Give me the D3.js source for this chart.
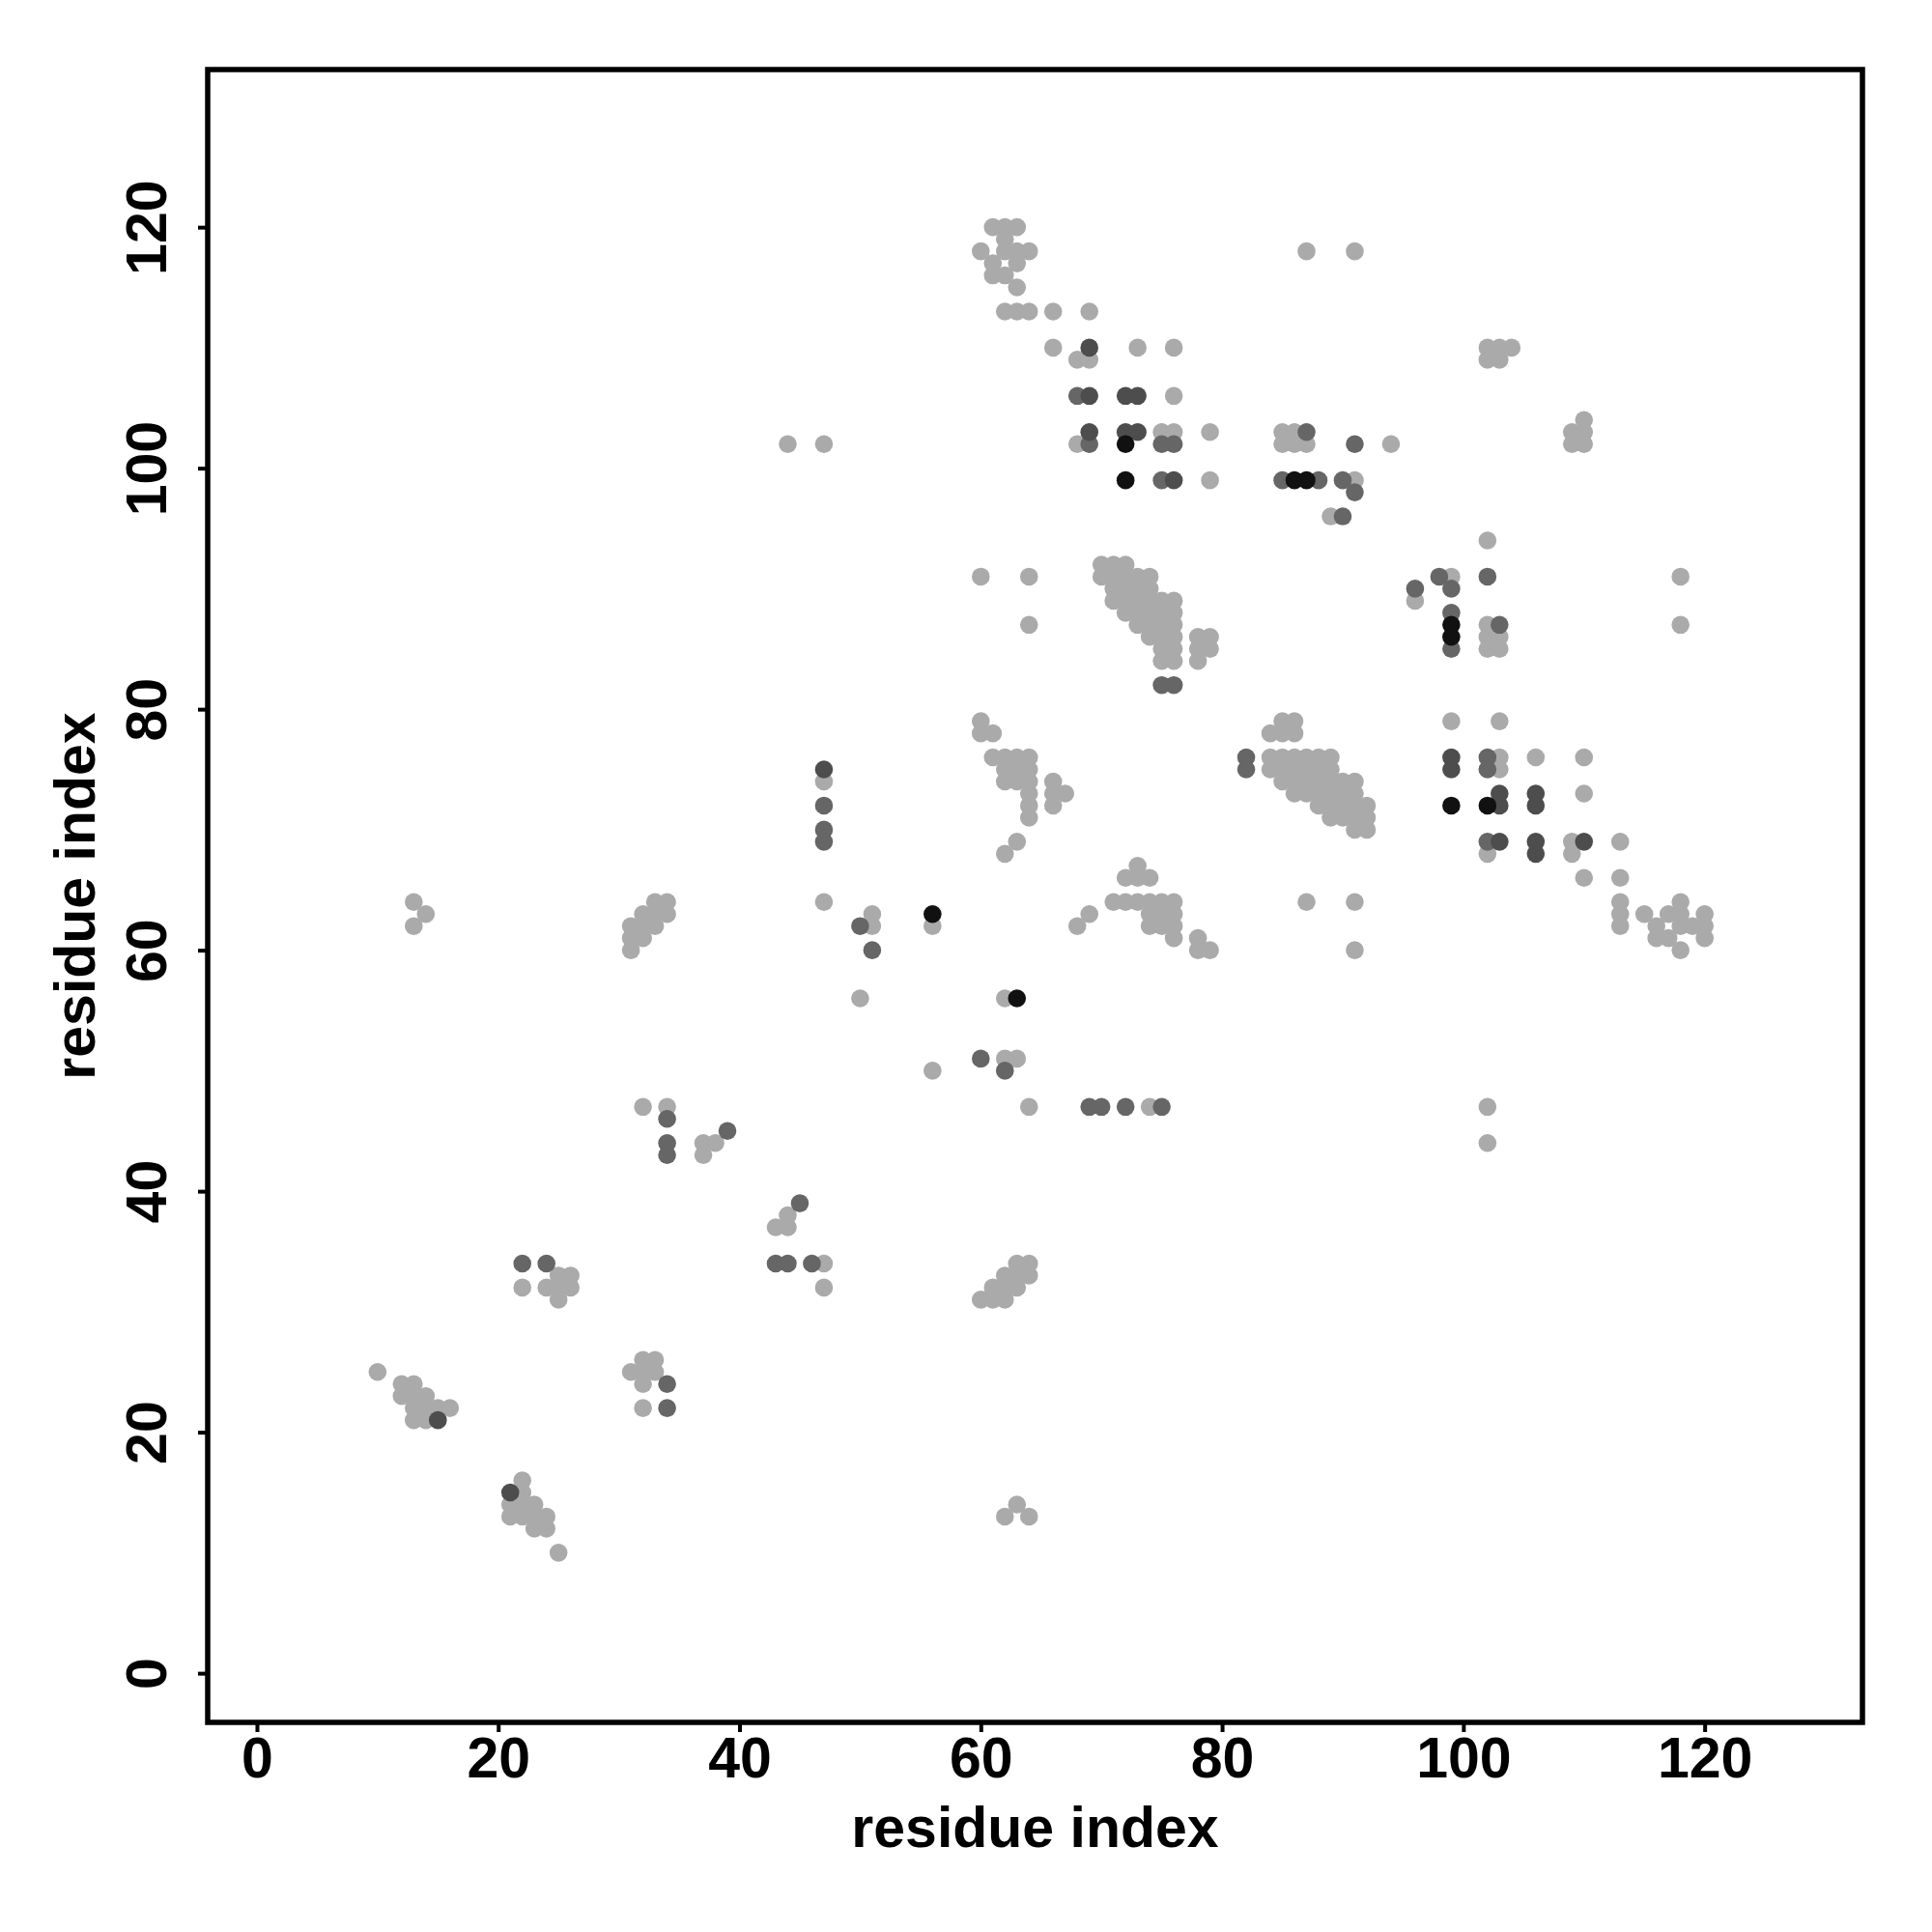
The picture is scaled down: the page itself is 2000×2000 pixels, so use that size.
<!DOCTYPE html>
<html>
<head>
<meta charset="utf-8">
<script src="https://cdn.jsdelivr.net/npm/d3@7"></script>
<style>
  body { margin: 0; background: #fff; }
  text { font-family: "Liberation Sans", Arial, Helvetica, sans-serif; font-weight: bold; }
</style>
</head>
<body>
<svg id="contact-map"></svg>
<script>
// contact pairs [residue i, residue j], grouped by shade
var lightPairs = [
  [44,102],[47,102],
  [61,120],[62,120],[63,120],[62,119],[60,118],[62,118],[63,118],[64,118],[61,117],[63,117],[61,116],[62,116],[63,115],
  [62,113],[63,113],[64,113],[66,113],[69,113],
  [66,110],[73,110],[76,110],[68,109],[69,109],[76,106],
  [75,103],[76,103],[79,103],[68,102],[79,99],
  [60,91],[64,91],[64,87],
  [70,92],[71,92],[72,92],
  [70,91],[71,91],[72,91],[73,91],[74,91],
  [71,90],[72,90],[73,90],[74,90],
  [71,89],[72,89],[73,89],[74,89],[75,89],[76,89],
  [72,88],[73,88],[74,88],[75,88],[76,88],
  [73,87],[74,87],[75,87],[76,87],
  [74,86],[75,86],[76,86],[78,86],[79,86],
  [75,85],[76,85],[78,85],[79,85],
  [75,84],[76,84],[78,84],
  [85,103],[86,103],[85,102],[86,102],[87,102],
  [87,118],[91,118],
  [102,110],[103,110],[104,110],[102,109],[103,109],
  [110,104],[109,103],[110,103],[109,102],[110,102],
  [94,102],[91,99],[89,96],[102,94],[99,91],[96,89],
  [102,87],[102,86],[103,86],[102,85],[103,85],[118,91],[118,87],
  [13,64],[14,63],[13,62],
  [33,64],[34,64],[32,63],[33,63],[34,63],[31,62],[32,62],[33,62],[31,61],[32,61],[31,60],
  [32,47],[34,47],[47,74],[47,64],
  [60,79],[60,78],[61,78],
  [61,76],[62,76],[63,76],[64,76],[62,75],[63,75],[64,75],[62,74],[63,74],[64,74],
  [64,73],[64,72],[64,71],[66,74],[66,73],[67,73],[66,72],[63,69],[62,68],
  [51,63],[51,62],[56,62],[50,56],[62,56],[56,50],[62,51],[63,51],[64,47],[74,47],
  [73,67],[72,66],[73,66],[74,66],
  [71,64],[72,64],[73,64],[74,64],[75,64],[76,64],
  [74,63],[75,63],[76,63],[74,62],[75,62],[76,62],[76,61],
  [69,63],[68,62],[78,61],[78,60],[79,60],
  [84,78],[84,76],[84,75],
  [85,79],[86,79],[85,78],[86,78],
  [85,76],[86,76],[87,76],[88,76],[89,76],
  [85,75],[86,75],[87,75],[88,75],[89,75],
  [85,74],[86,74],[87,74],[88,74],[89,74],[90,74],[91,74],
  [86,73],[87,73],[88,73],[89,73],[90,73],[91,73],
  [88,72],[89,72],[90,72],[91,72],[92,72],
  [89,71],[90,71],[91,71],[92,71],
  [91,70],[92,70],
  [87,64],[91,64],[91,60],
  [99,79],[103,79],[103,76],[103,75],[106,76],[110,76],[110,73],
  [109,69],[113,69],[102,68],[109,68],[110,66],[113,66],
  [113,64],[113,63],[113,62],[115,63],[116,62],[116,61],[117,63],[117,61],
  [118,64],[118,63],[118,62],[118,60],[119,62],[120,63],[120,62],[120,61],
  [102,47],[102,44],
  [10,25],[12,24],[13,24],[12,23],[13,23],[14,23],[13,22],[14,22],[15,22],[16,22],[13,21],[14,21],
  [31,25],[32,26],[33,26],[32,25],[33,25],[32,24],[32,22],
  [22,32],[24,32],[25,33],[26,33],[25,32],[26,32],[25,31],
  [37,44],[38,44],[37,43],[44,38],[43,37],[44,37],[47,34],[47,32],
  [22,16],[22,15],[21,14],[22,14],[23,14],[21,13],[22,13],[23,13],[24,13],[23,12],[24,12],[25,10],
  [60,31],[61,31],[62,31],[61,32],[62,32],[63,32],[62,33],[63,33],[64,33],[63,34],[64,34],
  [63,14],[62,13],[64,13]
];
var midPairs = [
  [68,106],[69,102],[75,102],[76,102],[75,99],[87,103],[85,99],[88,99],[90,99],[91,98],
  [91,102],[90,96],[98,91],[102,91],[96,90],[99,90],[99,88],[99,85],[103,87],
  [47,72],[47,70],[47,69],[50,62],[51,60],[60,51],[62,50],[69,47],[70,47],[72,47],[75,47],
  [75,82],[76,82],[82,76],[82,75],[34,46],[34,44],[34,43],[39,45],[45,39],
  [43,34],[44,34],[46,34],[22,34],[24,34],[34,24],[34,22],[102,76],[102,75],[102,69]
];
var darkPairs = [
  [69,110],[69,106],[72,106],[73,106],[69,103],[72,103],[73,103],[76,99],[47,75],
  [15,21],[21,15],[99,76],[99,75],[103,73],[106,73],[103,72],[106,72],
  [103,69],[106,69],[110,69],[106,68]
];
var blackPairs = [
  [72,102],[72,99],[86,99],[87,99],[99,87],[99,86],[56,63],[63,56],[99,72],[102,72]
];
var tickValues = [0, 20, 40, 60, 80, 100, 120];
var xTitle = "residue index", yTitle = "residue index";

var width = 2000, height = 2000;
var box = {left: 215, right: 1928, top: 72, bottom: 1783};

var svg = d3.select("#contact-map")
    .attr("width", width)
    .attr("height", height);
svg.append("rect").attr("width", width).attr("height", height).attr("fill", "#fff");

// R style 4% padding around 1..128
var x = d3.scaleLinear().domain([-4.08, 133.08]).range([box.left, box.right]);
var y = d3.scaleLinear().domain([-4.08, 133.08]).range([box.bottom, box.top]);

var groups = [
  {pts: lightPairs, color: "#aaaaaa"},
  {pts: midPairs, color: "#666666"},
  {pts: darkPairs, color: "#4d4d4d"},
  {pts: blackPairs, color: "#111111"}
];

var plot = svg.append("g");
groups.forEach(function(g){
    plot.selectAll(null)
        .data(g.pts)
        .enter()
        .append("circle")
        .attr("cx", function(d){ return x(d[0]); })
        .attr("cy", function(d){ return y(d[1]); })
        .attr("r", 9.3)
        .attr("fill", g.color);
});

// x axis
var xAxis = svg.append("g")
    .attr("transform", "translate(0," + box.bottom + ")")
    .call(d3.axisBottom(x).tickValues(tickValues).tickSize(10).tickPadding(5));
xAxis.select(".domain").remove();
xAxis.selectAll("line").attr("stroke", "#000").attr("stroke-width", 4);
xAxis.selectAll("text").attr("fill", "#000").style("font-size", "59px");

// y axis, labels turned like R's las=0
var yAxis = svg.append("g")
    .attr("transform", "translate(" + box.left + ",0)")
    .call(d3.axisLeft(y).tickValues(tickValues).tickSize(10));
yAxis.select(".domain").remove();
yAxis.selectAll("line").attr("stroke", "#000").attr("stroke-width", 4);
yAxis.selectAll("text")
    .attr("x", null).attr("dy", null)
    .attr("transform", "translate(-43,0) rotate(-90)")
    .style("text-anchor", "middle")
    .attr("fill", "#000")
    .style("font-size", "59px");

// frame
svg.append("rect")
    .attr("x", box.left).attr("y", box.top)
    .attr("width", box.right - box.left).attr("height", box.bottom - box.top)
    .attr("fill", "none").attr("stroke", "#000").attr("stroke-width", 5.5);

svg.append("text")
    .attr("x", (box.left + box.right) / 2).attr("y", 1912)
    .attr("text-anchor", "middle")
    .style("font-size", "59px")
    .text(xTitle);

svg.append("text")
    .attr("transform", "translate(98," + (box.top + box.bottom) / 2 + ") rotate(-90)")
    .attr("text-anchor", "middle")
    .style("font-size", "59px")
    .text(yTitle);
</script>
</body>
</html>
